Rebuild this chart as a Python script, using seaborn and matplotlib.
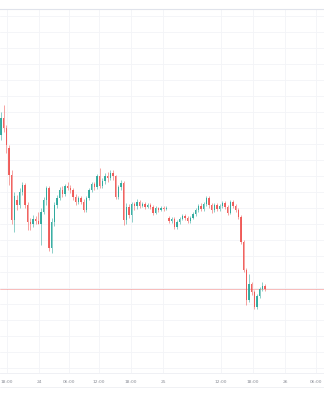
import numpy as np
import pandas as pd
import matplotlib
matplotlib.use("Agg")
import matplotlib.pyplot as plt
from matplotlib.lines import Line2D
import seaborn as sns

# ---- data (arbitrary price units) ----
opens = [265, 282, 272, 252, 225, 180, 200, 195, 208, 215, 195, 178, 176, 181, 179, 176, 188, 200, 212, 152,
         178, 195, 202, 210, 206, 214, 212, 210, 203, 198, 202, 198, 190, 202, 210, 216, 213, 224, 214, 219,
         224, 222, 227, 224, 203, 213, 217, 180, 193, 185, 196, 194, 198, 194, 196, 193, 195, 193, 187, 192,
         190, 192, 191, 182, 179, 181, 173, 178, 181, 184, 182, 179, 182, 186, 190, 194, 191, 196, 202, 195,
         190, 195, 191, 194, 197, 193, 187, 198, 194, 190, 183, 158, 130, 100, 116, 108, 93, 104, 111, 114]
highs = [288, 295, 275, 255, 230, 208, 205, 212, 218, 217, 198, 182, 185, 184, 188, 192, 203, 214, 214, 182,
         198, 205, 213, 214, 216, 218, 215, 212, 206, 204, 204, 201, 204, 212, 218, 218, 226, 232, 222, 227,
         228, 230, 230, 225, 215, 220, 219, 197, 196, 198, 198, 201, 200, 198, 198, 197, 197, 195, 194, 193,
         194, 194, 194, 184, 183, 183, 180, 183, 186, 186, 184, 184, 188, 192, 196, 197, 198, 204, 204, 197,
         197, 197, 196, 199, 199, 195, 200, 200, 196, 192, 185, 160, 132, 126, 118, 110, 106, 113, 118, 116]
lows = [260, 268, 247, 215, 176, 168, 190, 192, 205, 192, 170, 170, 173, 176, 176, 155, 186, 195, 149, 147,
        174, 192, 200, 203, 204, 210, 207, 200, 195, 196, 196, 188, 188, 200, 208, 210, 211, 212, 212, 216,
        218, 220, 220, 201, 201, 210, 175, 176, 182, 178, 190, 191, 192, 193, 191, 192, 191, 185, 186, 188,
        189, 189, 190, 177, 177, 171, 171, 176, 180, 180, 177, 177, 181, 184, 188, 189, 189, 194, 192, 187,
        188, 189, 189, 192, 191, 185, 186, 192, 188, 181, 156, 128, 95, 98, 105, 91, 91, 102, 109, 109]
closes = [282, 272, 255, 225, 180, 204, 195, 208, 215, 195, 178, 176, 181, 179, 176, 188, 200, 212, 152, 178,
          195, 202, 210, 206, 214, 212, 210, 203, 198, 202, 198, 190, 202, 210, 216, 213, 224, 214, 219, 224,
          222, 227, 224, 203, 213, 217, 180, 193, 185, 196, 194, 198, 194, 196, 193, 195, 193, 187, 192, 190,
          192, 191, 192, 179, 181, 173, 178, 181, 184, 182, 179, 182, 186, 190, 194, 191, 196, 202, 195, 190,
          195, 191, 194, 197, 193, 187, 198, 194, 190, 183, 158, 130, 100, 116, 108, 93, 104, 111, 114, 111]

tick_pos = [2.1, 14.25, 25.5, 36.75, 48.75, 60.75, 82.5, 94.5, 106.5, 118.1]
tick_labels = ["18:00", "24", "06:00", "12:00", "18:00", "25", "12:00", "18:00", "26", "06:00"]

UP = "#26a69a"
DOWN = "#ef5350"

df = pd.DataFrame({"open": opens, "high": highs, "low": lows, "close": closes})
df["idx"] = np.arange(len(df))
df["up"] = df["close"] >= df["open"]

sns.set_theme(style="white")
plt.rcParams["font.family"] = ["DejaVu Sans"]

fig = plt.figure(figsize=(3.24, 4.0), dpi=100)
fig.patch.set_facecolor("white")
ax = fig.add_axes([0, 27 / 400, 1, 364 / 400])
ax.set_facecolor("white")
ax.set_axisbelow(True)

colors = np.where(df["up"], UP, DOWN)

# wicks
ax.vlines(df["idx"], df["low"], df["high"], colors=colors, lw=0.5, alpha=0.75, zorder=3)
# bodies
bottoms = np.minimum(df["open"], df["close"])
heights = np.maximum(np.abs(df["close"] - df["open"]), 0.8)
ax.bar(df["idx"], heights, bottom=bottoms, width=0.5, color=colors, linewidth=0, alpha=0.9, zorder=4)

# last price line
ax.axhline(closes[-1], color=DOWN, lw=0.6, alpha=0.45, zorder=2)

ax.set_xlim(-0.375, 121.1)
ax.set_ylim(27, 391)
ax.set_yticks(np.arange(32, 391, 16))
ax.set_yticklabels([])
ax.set_xticks(tick_pos)
ax.set_xticklabels(tick_labels)
ax.tick_params(axis="both", length=0)
ax.tick_params(axis="x", labelsize=3.2, labelcolor="#8a8d96", pad=5)
ax.grid(True, color="#f3f4f7", lw=0.6, zorder=0)

for s in ["left", "right"]:
    ax.spines[s].set_visible(False)
ax.spines["top"].set_color("#e0e3eb")
ax.spines["top"].set_linewidth(0.8)
ax.spines["bottom"].set_color("#eceef2")
ax.spines["bottom"].set_linewidth(0.6)

fig.add_artist(Line2D([0, 1], [13 / 400, 13 / 400], color="#eeeff3", lw=0.6))

fig.savefig("out.png", dpi=100)
